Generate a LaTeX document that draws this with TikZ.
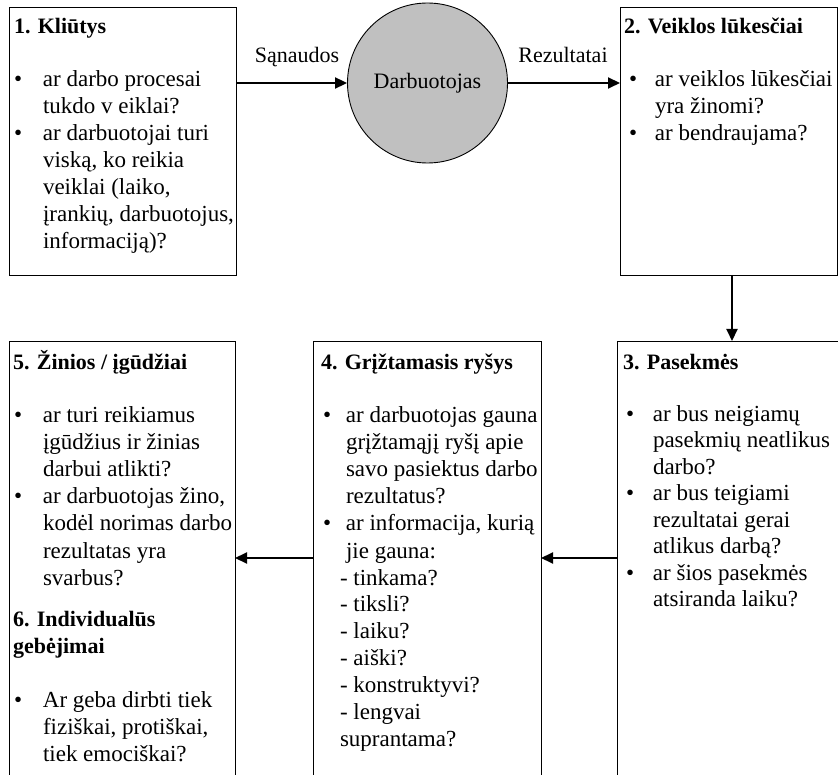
\documentclass[tikz,border=0pt]{standalone}
\usepackage{fontspec}
\setmainfont{Liberation Serif}
\usetikzlibrary{arrows.meta}
\newlength{\bw}
\newcommand{\bl}{\makebox[\bw][l]{\textbullet}}
\newcommand{\ind}{\hspace*{\bw}}
\newcommand{\blk}[3][27]{\parbox[t]{260pt}{\setlength{\bw}{#2}\fontsize{23}{#1}\selectfont\raggedright #3}}
\tikzset{
  area/.style={anchor=north west, inner sep=0pt, outer sep=0pt},
  border/.style={line width=0.9pt, line cap=rect},
  txt/.style={anchor=base west, inner sep=0pt, outer sep=0pt},
  ttl/.style={anchor=base west, inner sep=0pt, outer sep=0pt, font=\fontsize{22}{27}\selectfont\bfseries},
  lab/.style={anchor=base, inner sep=0pt, font=\fontsize{22}{25}\selectfont},
  conn/.style={line width=2pt, -{Triangle[length=12pt,width=11pt]}},
}
\begin{document}
\begin{tikzpicture}[x=1pt,y=-1pt]
\useasboundingbox (0,0) rectangle (838,775);
% boxes
\node[area, draw, border, minimum width=227pt, minimum height=268pt] (b1) at (9,7) {};
\node[area, draw, border, minimum width=217pt, minimum height=268pt] (b2) at (620,7) {};
\node[area, minimum width=221pt, minimum height=434pt] (b3) at (617,341) {};
\node[area, minimum width=228pt, minimum height=434pt] (b4) at (313,341) {};
\node[area, minimum width=226pt, minimum height=434pt] (b5) at (9,341) {};
\draw[border] (b3.south west) -- (b3.north west) -- (b3.north east);
\draw[border] (b4.south west) -- (b4.north west) -- (b4.north east) -- (b4.south east);
\draw[border] (b5.south west) -- (b5.north west) -- (b5.north east) -- (b5.south east);
% circle
\node[circle, draw, line width=0.9pt, fill={rgb,255:red,192;green,192;blue,192}, minimum size=160pt, inner sep=0pt,
      font=\fontsize{22}{25}\selectfont] (c) at (427.5,83) {Darbuotojas};
% connectors
\draw[conn] (b1.east |- c.west) -- (c.west);
\draw[conn] (c.east) -- (c.east -| b2.west);
\draw[conn] ([xshift=3.5pt]b2.south) -- ([xshift=3.5pt]b2.south |- b3.north);
\draw[conn] (b3.west) -- (b4.east);
\draw[conn] (b4.west) -- (b5.east);
% labels
\node[lab] (l1) at (297,63) {Sąnaudos};
\node[lab] (l2) at (563,63) {Rezultatai};
% box 1
\node[ttl] (t1) at (14,34) {1. Kliūtys};
\node[txt] (x1) at (14,87) {\blk{29pt}{\bl ar darbo procesai\\
\ind tukdo v eiklai?\\
\bl ar darbuotojai turi\\
\ind viską, ko reikia\\
\ind veiklai (laiko,\\
\ind įrankių, darbuotojus,\\
\ind informaciją)?}};
% box 2
\node[ttl] (t2) at (624,34) {2. Veiklos lūkesčiai};
\node[txt] (x2) at (629,87) {\blk{26pt}{\bl ar veiklos lūkesčiai\\
\ind yra žinomi?\\
\bl ar bendraujama?}};
% box 3
\node[ttl] (t3) at (623,370) {3. Pasekmės};
\node[txt] (x3) at (626,421) {\blk[26.5]{27pt}{\bl ar bus neigiamų\\
\ind pasekmių neatlikus\\
\ind darbo?\\
\bl ar bus teigiami\\
\ind rezultatai gerai\\
\ind atlikus darbą?\\
\bl ar šios pasekmės\\
\ind atsiranda laiku?}};
% box 4
\node[ttl] (t4) at (321,370) {4. Grįžtamasis ryšys};
\node[txt] (x4) at (323,423) {\blk{23pt}{\bl ar darbuotojas gauna\\
\ind grįžtamąjį ryšį apie\\
\ind savo pasiektus darbo\\
\ind rezultatus?\\
\bl ar informacija, kurią\\
\ind jie gauna:\\
\hspace*{17pt}- tinkama?\\
\hspace*{17pt}- tiksli?\\
\hspace*{17pt}- laiku?\\
\hspace*{17pt}- aiški?\\
\hspace*{17pt}- konstruktyvi?\\
\hspace*{17pt}- lengvai\\
\hspace*{17pt}suprantama?}};
% box 5
\node[ttl] (t5) at (13,370) {5. Žinios / įgūdžiai};
\node[txt] (x5) at (14,423) {\blk{29pt}{\bl ar turi reikiamus\\
\ind įgūdžius ir žinias\\
\ind darbui atlikti?\\
\bl ar darbuotojas žino,\\
\ind kodėl norimas darbo\\
\ind rezultatas yra\\
\ind svarbus?}};
\node[txt] (t6) at (13,626) {\parbox[t]{220pt}{\fontsize{22}{27}\selectfont\bfseries\raggedright 6. Individualūs\\ gebėjimai}};
\node[txt] (x6) at (14,707) {\blk{29pt}{\bl Ar geba dirbti tiek\\
\ind fiziškai, protiškai,\\
\ind tiek emociškai?}};
\end{tikzpicture}
\end{document}
